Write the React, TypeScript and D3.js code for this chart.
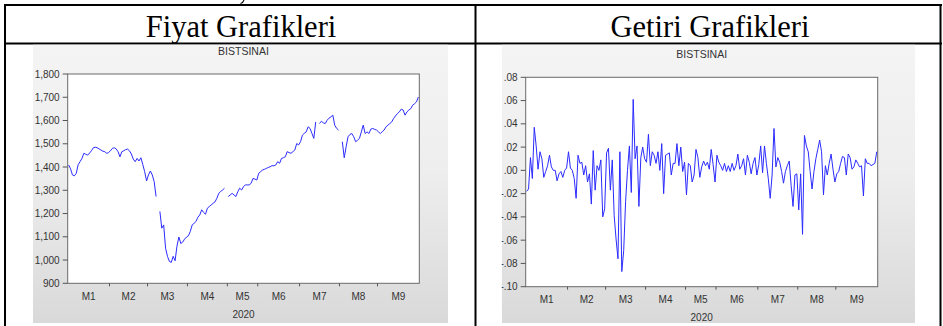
import React from "react";
import * as d3 from "d3";

const monthLabels = ["M1", "M2", "M3", "M4", "M5", "M6", "M7", "M8", "M9"];
const monthStarts = [0, 22, 42, 63, 84, 100, 122, 143, 163];
const nObs = 185;
const yearLabel = "2020";
const seriesName = "BISTSINAI";
const headers = ["Fiyat Grafikleri", "Getiri Grafikleri"];

const priceValues: (number | null)[] = [
  1409, 1392, 1366, 1362, 1373, 1410, 1423, 1437, 1459, 1455,
  1451, 1460, 1470, 1483, 1485, 1483, 1478, 1473, 1468, 1466,
  1459, 1462, 1470, 1480, 1483, 1478, 1466, 1444, 1466, 1470,
  1475, 1477, 1470, 1456, 1434, 1423, 1437, 1426, 1440, 1411,
  1380, 1340, 1366, 1383, 1366, 1337, 1273, null, 1209, 1137,
  1151, 1051, 1016, 994, 990, 1016, 997, 1060, 1099, 1071,
  1077, 1090, 1099, 1104, 1123, 1151, 1158, 1166, 1184, 1194,
  1216, 1205, 1197, 1223, 1230, 1237, 1244, 1250, 1266, 1287,
  1295, 1301, 1309, null, 1273, 1280, 1287, 1280, 1273, 1294,
  1309, 1301, 1316, 1323, 1323, 1323, 1330, 1351, 1348, 1344,
  1373, 1380, 1387, 1390, 1394, 1398, 1401, 1406, 1405, 1409,
  1423, 1416, 1437, 1440, 1444, 1466, 1462, 1459, 1466, 1473,
  1501, 1495, 1509, 1537, 1545, 1551, 1573, 1566, 1545, 1523,
  1594, null, 1587, 1597, 1590, 1587, 1601, 1610, 1616, 1623,
  1580, 1566, 1559, null, 1509, 1440, 1487, 1530, 1540, 1544,
  1530, 1509, 1515, 1523, 1551, 1580, 1544, 1551, 1544, 1563,
  1566, 1562, 1559, 1551, 1544, 1552, 1559, 1573, 1580, 1587,
  1594, 1609, 1620, 1630, 1637, 1649, 1645, 1623, 1637, 1645,
  1651, 1666, 1672, 1680, 1701,
];

const returnValues: (number | null)[] = [
  -0.018, -0.016, 0.011, -0.007, 0.037, 0.021, 0.001, 0.016, 0.010, -0.006,
  -0.001, 0.004, 0.013, 0.003, 0.000, 0.000, -0.009, -0.003, -0.001, -0.006,
  0.000, 0.002, 0.016, 0.002, 0.000, -0.007, -0.024, 0.013, 0.006, 0.007,
  -0.004, 0.004, -0.010, -0.003, -0.029, 0.017, -0.017, 0.004, 0.000, 0.009,
  -0.040, -0.033, 0.015, 0.019, -0.017, 0.009, -0.039, -0.059, -0.076, 0.016,
  -0.087, -0.069, -0.027, 0.000, 0.021, -0.019, 0.061, 0.010, 0.021, -0.031,
  0.011, 0.020, 0.010, 0.007, 0.031, 0.004, 0.016, 0.013, 0.006, 0.016,
  0.000, 0.023, -0.020, 0.013, 0.014, 0.015, -0.004, 0.006, 0.006, 0.023,
  0.004, 0.020, -0.001, 0.007, -0.021, 0.006, 0.004, -0.010, -0.004, 0.018,
  0.011, -0.006, 0.003, 0.008, 0.004, 0.007, 0.001, 0.018, 0.005, -0.010,
  0.013, 0.007, 0.004, 0.000, 0.006, -0.001, 0.004, -0.001, 0.006, 0.000,
  0.004, 0.014, 0.001, 0.004, 0.010, -0.004, 0.013, 0.007, -0.003, 0.006,
  0.011, -0.004, 0.005, 0.021, -0.002, 0.021, 0.006, -0.007, -0.024, -0.004,
  0.036, 0.003, 0.011, 0.007, -0.001, -0.011, -0.001, 0.004, 0.008, -0.013,
  -0.031, -0.004, -0.003, -0.034, -0.003, -0.055, 0.030, 0.021, 0.016, -0.001,
  -0.016, -0.001, 0.010, 0.018, 0.026, 0.016, -0.021, 0.004, -0.004, 0.006,
  0.014, 0.001, -0.010, -0.003, -0.001, 0.006, 0.012, 0.011, -0.004, 0.014,
  0.011, 0.001, 0.003, 0.009, 0.006, 0.003, 0.004, -0.022, 0.010, 0.006,
  0.006, 0.004, 0.005, 0.006, 0.016,
];

const priceTicks = [900, 1000, 1100, 1200, 1300, 1400, 1500, 1600, 1700, 1800];
const returnTicks = [-0.1, -0.08, -0.06, -0.04, -0.02, 0, 0.02, 0.04, 0.06, 0.08];

const fmtPrice = d3.format(",");
const fmtReturn = (v: number) => {
  const s = d3.format(".2f")(Math.abs(v)).replace(/^0/, "");
  return (v < -1e-9 ? "-" : "") + s;
};

type PanelProps = {
  id: string;
  panelX: number;
  panelW: number;
  panelY: number;
  panelH: number;
  plotX0: number;
  plotX1: number;
  plotY0: number;
  plotY1: number;
  yTicks: number[];
  fmt: (v: number) => string;
  values: (number | null)[];
};

function Panel(p: PanelProps) {
  const x = d3.scaleLinear().domain([-0.5, nObs - 0.5]).range([p.plotX0, p.plotX1]);
  const y = d3
    .scaleLinear()
    .domain([p.yTicks[0], p.yTicks[p.yTicks.length - 1]])
    .range([p.plotY1, p.plotY0]);
  const line = d3
    .line<number | null>()
    .defined((d) => d != null)
    .x((_, i) => x(i))
    .y((d) => y(d as number));
  const bounds = [...monthStarts, nObs];
  const font = "'Liberation Sans', Arial, sans-serif";
  const cx = (p.plotX0 + p.plotX1) / 2;
  return (
    <g>
      <defs>
        <linearGradient id={`g-${p.id}`} x1="0" y1="0" x2="0" y2="1">
          <stop offset="0" stopColor="#f4f4f4" />
          <stop offset="0.45" stopColor="#eeeeee" />
          <stop offset="1" stopColor="#d9d9d9" />
        </linearGradient>
        <clipPath id={`c-${p.id}`}>
          <rect x={p.panelX} y={p.panelY} width={p.panelW} height={p.panelH} />
        </clipPath>
      </defs>
      <g clipPath={`url(#c-${p.id})`}>
        <rect x={p.panelX} y={p.panelY} width={p.panelW} height={p.panelH} fill={`url(#g-${p.id})`} />
        <text x={cx} y={p.plotY0 - 19} textAnchor="middle" fontFamily={font} fontSize={10.5} fill="#333">
          {seriesName}
        </text>
        <rect
          x={p.plotX0}
          y={p.plotY0}
          width={p.plotX1 - p.plotX0}
          height={p.plotY1 - p.plotY0}
          fill="#fff"
          stroke="#6a6a6a"
          strokeWidth={1}
        />
        {p.yTicks.map((t) => (
          <g key={t}>
            <line x1={p.plotX0 - 5} x2={p.plotX0} y1={y(t)} y2={y(t)} stroke="#555" />
            <text
              x={p.plotX0 - 8}
              y={y(t)}
              dy="0.35em"
              textAnchor="end"
              fontFamily={font}
              fontSize={10}
              fill="#333"
            >
              {p.fmt(t)}
            </text>
          </g>
        ))}
        {monthStarts.slice(1).map((b) => (
          <line key={b} x1={x(b - 0.5)} x2={x(b - 0.5)} y1={p.plotY1} y2={p.plotY1 + 3} stroke="#555" />
        ))}
        {monthLabels.map((m, i) => (
          <text
            key={m}
            x={(x(bounds[i] - 0.5) + x(bounds[i + 1] - 0.5)) / 2}
            y={p.plotY1 + 13}
            dy="0.35em"
            textAnchor="middle"
            fontFamily={font}
            fontSize={10}
            fill="#333"
          >
            {m}
          </text>
        ))}
        <text x={cx} y={p.plotY1 + 31} dy="0.35em" textAnchor="middle" fontFamily={font} fontSize={10} fill="#333">
          {yearLabel}
        </text>
        <path d={line(p.values) || ""} fill="none" stroke="#2b2bff" strokeWidth={1} />
      </g>
    </g>
  );
}

export default function App() {
  const serif = "'Liberation Serif', 'Times New Roman', serif";
  return (
    <svg
      width={943}
      height={326}
      style={{ position: "absolute", left: 0, top: 0, background: "#fff" }}
    >
      <rect x={0} y={0} width={943} height={326} fill="#fff" />
      {/* descender fragment of a line of text above the table */}
      <path d="M244,0 Q243,3 240.5,3.5" fill="none" stroke="#000" strokeWidth={1.1} />
      {/* table borders */}
      <line x1={4} x2={942} y1={5} y2={5} stroke="#000" strokeWidth={2} />
      <line x1={4} x2={942} y1={43.5} y2={43.5} stroke="#000" strokeWidth={2} />
      <line x1={5} x2={5} y1={4} y2={326} stroke="#000" strokeWidth={2} />
      <line x1={475.5} x2={475.5} y1={4} y2={326} stroke="#000" strokeWidth={2} />
      <line x1={940.5} x2={940.5} y1={4} y2={326} stroke="#000" strokeWidth={2} />
      <text x={241} y={36.5} textAnchor="middle" fontFamily={serif} fontSize={30.5} fill="#000">
        {headers[0]}
      </text>
      <text x={710} y={36.5} textAnchor="middle" fontFamily={serif} fontSize={30.5} fill="#000">
        {headers[1]}
      </text>
      <Panel
        id="p"
        panelX={33}
        panelW={415}
        panelY={44.5}
        panelH={278.5}
        plotX0={67.7}
        plotX1={419.3}
        plotY0={74}
        plotY1={283.3}
        yTicks={priceTicks}
        fmt={(v) => fmtPrice(v)}
        values={priceValues}
      />
      <Panel
        id="r"
        panelX={501.7}
        panelW={413.3}
        panelY={44.5}
        panelH={278.5}
        plotX0={525.7}
        plotX1={877.7}
        plotY0={77.3}
        plotY1={286.7}
        yTicks={returnTicks}
        fmt={fmtReturn}
        values={returnValues}
      />
    </svg>
  );
}
